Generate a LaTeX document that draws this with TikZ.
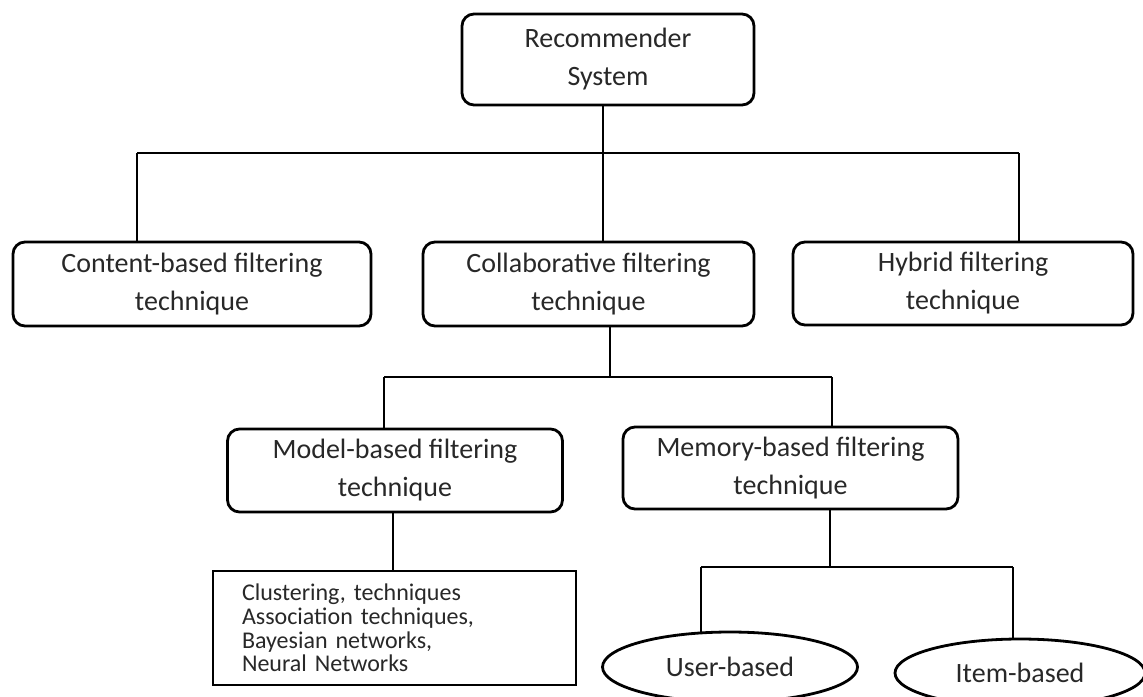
\documentclass[tikz,border=0pt]{standalone}
\usepackage{fontspec}
\setmainfont{Carlito}
\usepackage{xcolor}
\usepackage{tikz}
\usetikzlibrary{shapes.geometric, positioning, calc}
\definecolor{textgray}{RGB}{40, 40, 40}

\begin{document}
\begin{tikzpicture}[
    x=0.5pt, y=-0.5pt,
    box/.style={draw, rounded corners=6pt, line width=1.4pt, align=center, inner sep=0pt, text=textgray, font=\fontsize{14}{19}\selectfont},
    listbox/.style={draw, rectangle, line width=1.4pt, align=left, inner xsep=14.5pt, text width=152.5pt, minimum height=57pt, text=textgray, font=\fontsize{12}{11.9}\selectfont},
    oval/.style={draw, ellipse, line width=1.4pt, inner sep=0pt, text=textgray, font=\fontsize{14}{19}\selectfont},
    link/.style={line width=1.4pt}
]
    \clip (0,0) rectangle (1143,696);
    \fill[white] (0,0) rectangle (1143,696);

    % Root and first level
    \node[box, minimum width=146pt, minimum height=45.5pt] (root) at (608,59.5) {Recommender\\System};
    \node[box, minimum width=179pt, minimum height=42pt] (content) at (192,284) {Content-based filtering\\technique};
    \node[box, minimum width=165.5pt, minimum height=42pt] (collab) at (588.5,284) {Collaborative filtering\\technique};
    \node[box, minimum width=170pt, minimum height=41.5pt] (hybrid) at (963,283.5) {Hybrid filtering\\technique};

    % Collaborative branch
    \node[box, minimum width=167.5pt, minimum height=41.5pt] (model) at (395,470.5) {Model-based filtering\\technique};
    \node[box, minimum width=167.5pt, minimum height=41pt] (memory) at (790.5,468) {Memory-based filtering\\technique};
    \node[listbox] (methods) at (394.5,628) {Clustering, techniques\\Association techniques,\\Bayesian networks,\\Neural Networks};
    \node[oval, minimum width=127.5pt, minimum height=35pt] (user) at (730,667) {User-based};
    \node[oval, minimum width=125pt, minimum height=34pt] (item) at (1020,673) {Item-based};

    % Bus lines
    \coordinate (rootbus) at (603,153);
    \coordinate (contentbus) at (137,153);
    \coordinate (hybridbus) at (1019,153);
    \coordinate (collabbus) at (610,377);
    \coordinate (modelbus) at (384,377);
    \coordinate (memorybus) at (832,377);
    \coordinate (leafbus) at (830,567);
    \coordinate (userbus) at (701,567);
    \coordinate (itembus) at (1013,567);

    \draw[link] (root.south -| rootbus) -- (rootbus);
    \draw[link] (contentbus) -- (hybridbus);
    \draw[link] (contentbus) -- (contentbus |- content.north);
    \draw[link] (rootbus) -- (rootbus |- collab.north);
    \draw[link] (hybridbus) -- (hybridbus |- hybrid.north);

    \draw[link] (collab.south -| collabbus) -- (collabbus);
    \draw[link] (modelbus) -- (memorybus);
    \draw[link] (modelbus) -- (modelbus |- model.north);
    \draw[link] (memorybus) -- (memorybus |- memory.north);

    \draw[link] ([xshift=-1pt]model.south) -- ([xshift=-1pt]model.south |- methods.north);

    \draw[link] (memory.south -| leafbus) -- (leafbus);
    \draw[link] (userbus) -- (itembus);
    \draw[link] (userbus) -- ($(userbus |- user.north)+(0,1)$);
    \draw[link] (itembus) -- (itembus |- item.north);
\end{tikzpicture}
\end{document}
